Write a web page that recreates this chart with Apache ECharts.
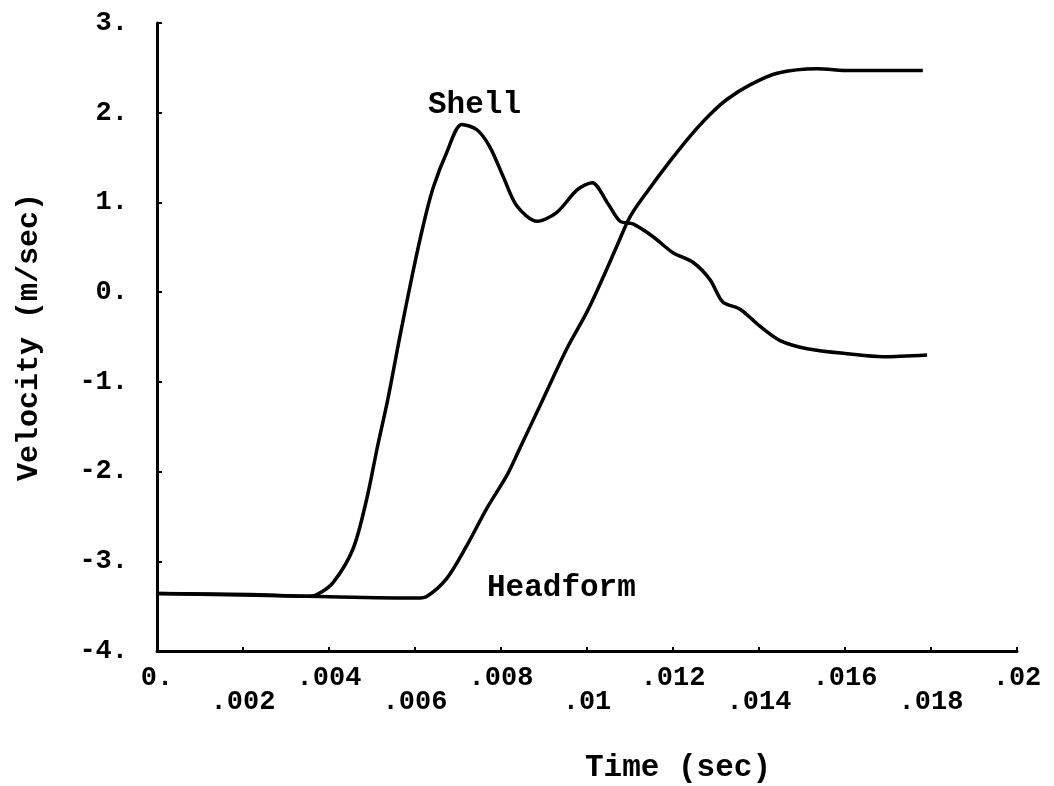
<!DOCTYPE html>
<html>
<head>
<meta charset="utf-8">
<script src="https://cdn.jsdelivr.net/npm/echarts@6/dist/echarts.min.js"></script>
<style>
html,body{margin:0;padding:0;background:#fff;}
#chart{width:1054px;height:786px;}
</style>
</head>
<body>
<div id="chart"></div>
<script>
// Time (sec), Velocity (m/sec)
const shellTime = [0, 0.00216, 0.00349, 0.00372, 0.00409, 0.00456, 0.00488, 0.00512, 0.00537, 0.00565, 0.00595, 0.00619, 0.00642, 0.00674, 0.00709, 0.00744, 0.00774, 0.00805, 0.00837, 0.00884, 0.0093, 0.00977, 0.01012, 0.01047, 0.01077, 0.01107, 0.01153, 0.012, 0.01247, 0.01286, 0.01316, 0.01356, 0.01402, 0.01449, 0.01512, 0.01612, 0.01688, 0.01791];
const shellVel  = [-3.36, -3.37, -3.39, -3.37, -3.24, -2.86, -2.30, -1.74, -1.19, -0.49, 0.22, 0.74, 1.16, 1.56, 1.87, 1.81, 1.62, 1.29, 0.96, 0.79, 0.89, 1.14, 1.22, 1.00, 0.79, 0.76, 0.62, 0.44, 0.33, 0.14, -0.11, -0.19, -0.38, -0.54, -0.63, -0.69, -0.72, -0.70];

const headTime = [0, 0.00349, 0.00605, 0.00628, 0.00674, 0.00721, 0.00767, 0.00814, 0.0084, 0.00898, 0.00953, 0.0100, 0.01037, 0.0107, 0.0110, 0.0114, 0.01193, 0.0124, 0.01286, 0.01326, 0.01379, 0.01442, 0.01535, 0.01612, 0.01781];
const headVel  = [-3.36, -3.39, -3.41, -3.39, -3.19, -2.82, -2.41, -2.04, -1.78, -1.19, -0.63, -0.22, 0.16, 0.52, 0.84, 1.12, 1.46, 1.74, 1.98, 2.15, 2.31, 2.44, 2.49, 2.47, 2.47];

const xTickLabels = ['0.', '.002', '.004', '.006', '.008', '.01', '.012', '.014', '.016', '.018', '.02'];
const yTickLabels = {'-4': '-4.', '-3': '-3.', '-2': '-2.', '-1': '-1.', '0': '0.', '1': '1.', '2': '2.', '3': '3.'};

const FONT = '"Liberation Mono", "DejaVu Sans Mono", monospace';
const zip = (a, b) => a.map((v, i) => [v, b[i]]);

const chart = echarts.init(document.getElementById('chart'), null, {renderer: 'canvas'});
chart.setOption({
  backgroundColor: '#fff',
  animation: false,
  grid: {left: 157, right: 37, top: 23, bottom: 135, containLabel: false},
  xAxis: {
    type: 'value', min: 0, max: 0.02, interval: 0.002,
    axisLine: {show: true, onZero: false, lineStyle: {color: '#000', width: 3}},
    axisTick: {show: true, inside: true, length: 4, lineStyle: {color: '#000', width: 2}},
    splitLine: {show: false},
    axisLabel: {
      show: true, interval: 0, hideOverlap: false, margin: 15,
      color: '#000', fontFamily: FONT, fontWeight: 'bold', fontSize: 27, lineHeight: 24,
      formatter: function (v, idx) {
        const i = Math.round(v / 0.002);
        const s = xTickLabels[i];
        return (i % 2 === 1) ? '\n' + s : s;
      }
    }
  },
  yAxis: {
    type: 'value', min: -4, max: 3, interval: 1,
    name: 'Velocity (m/sec)', nameLocation: 'middle', nameGap: 113,
    nameTextStyle: {color: '#000', fontFamily: FONT, fontWeight: 'bold', fontSize: 30},
    axisLine: {show: true, onZero: false, lineStyle: {color: '#000', width: 3}},
    axisTick: {show: true, inside: true, length: 5, lineStyle: {color: '#000', width: 2}},
    splitLine: {show: false},
    axisLabel: {
      show: true, margin: 29, color: '#000', fontFamily: FONT, fontWeight: 'bold', fontSize: 27,
      formatter: function (v) { return yTickLabels[String(Math.round(v))]; }
    }
  },
  graphic: [
    {type: 'text', left: 585, top: 753, style: {text: 'Time (sec)', fill: '#000', font: 'bold 31px ' + FONT}},
    {type: 'text', left: 428, top: 90, style: {text: 'Shell', fill: '#000', font: 'bold 31px ' + FONT}},
    {type: 'text', left: 487, top: 573, style: {text: 'Headform', fill: '#000', font: 'bold 31px ' + FONT}}
  ],
  series: [
    {name: 'Shell', type: 'line', data: zip(shellTime, shellVel), showSymbol: false, smooth: 0.3,
     lineStyle: {color: '#000', width: 3.5}},
    {name: 'Headform', type: 'line', data: zip(headTime, headVel), showSymbol: false, smooth: 0.3,
     lineStyle: {color: '#000', width: 3.5}}
  ]
});
</script>
</body>
</html>
